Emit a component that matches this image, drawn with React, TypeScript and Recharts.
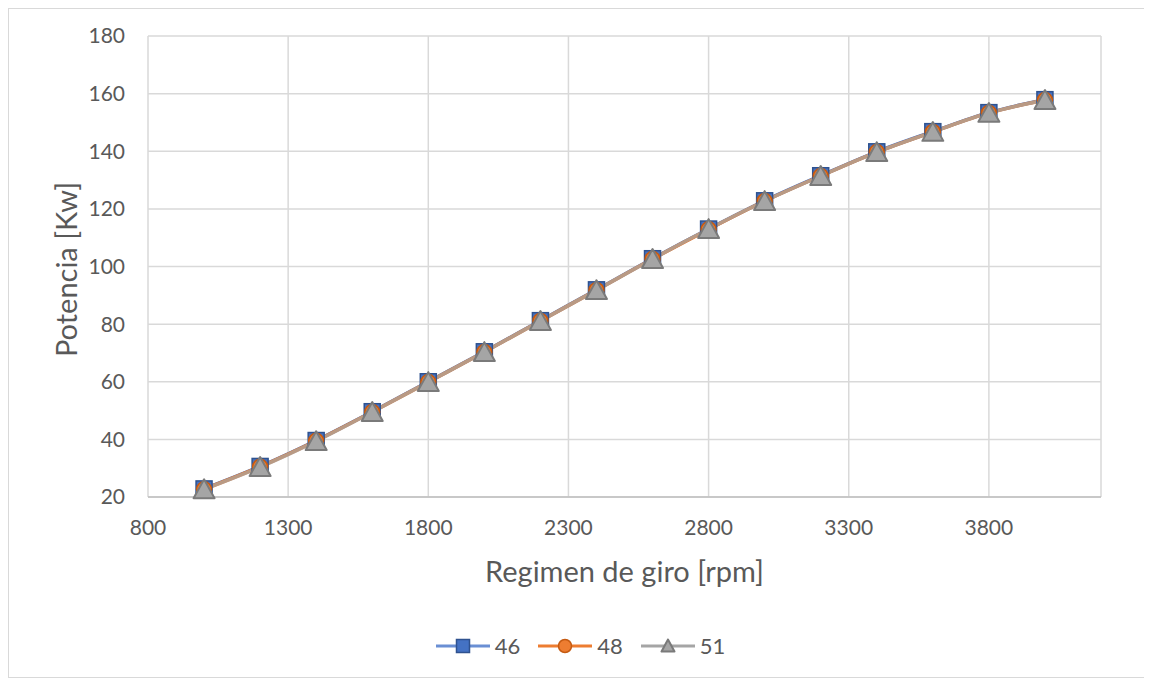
import React from "react";
import { LineChart, Line, XAxis, YAxis, CartesianGrid, Label } from "recharts";

const rpm = [1000, 1200, 1400, 1600, 1800, 2000, 2200, 2400, 2600, 2800, 3000, 3200, 3400, 3600, 3800, 4000];
const power46 = [22.8, 30.6, 39.6, 49.6, 60.0, 70.4, 81.2, 91.9, 102.7, 113.0, 122.8, 131.5, 139.8, 146.8, 153.4, 157.9];
const power48 = [22.7, 30.5, 39.5, 49.5, 59.9, 70.3, 81.1, 91.8, 102.6, 112.9, 122.7, 131.4, 139.7, 146.7, 153.3, 157.8];
const power51 = [22.7, 30.4, 39.4, 49.5, 59.9, 70.3, 81.1, 91.8, 102.6, 113.0, 122.7, 131.4, 139.7, 146.7, 153.3, 157.8];

const xTicks = [800, 1300, 1800, 2300, 2800, 3300, 3800];
const yTicks = [20, 40, 60, 80, 100, 120, 140, 160, 180];

const SERIES = [
  { key: "p46", name: "46", color: "#4472C4", edge: "#2F528F", marker: "square" },
  { key: "p48", name: "48", color: "#ED7D31", edge: "#C55A11", marker: "circle" },
  { key: "p51", name: "51", color: "#A5A5A5", edge: "#7A7A7A", marker: "triangle" },
];

const data = rpm.map((r, i) => ({ rpm: r, p46: power46[i], p48: power48[i], p51: power51[i] }));

const FONT = "Lato, 'Open Sans', sans-serif";
const TEXT = "#595959";
const GRID = "#D9D9D9";

function Marker({ kind, cx, cy, size, fill, edge }: { kind: string; cx: number; cy: number; size: number; fill: string; edge: string }) {
  if (kind === "square") {
    return <rect x={cx - size / 2} y={cy - size / 2} width={size} height={size} fill={fill} stroke={edge} strokeWidth={1.5} />;
  }
  if (kind === "circle") {
    return <circle cx={cx} cy={cy} r={size / 2} fill={fill} stroke={edge} strokeWidth={1.5} />;
  }
  const h = size * 0.85;
  return (
    <polygon
      points={`${cx},${cy - h / 2 - 1} ${cx - size / 2},${cy + h / 2} ${cx + size / 2},${cy + h / 2}`}
      fill={fill}
      stroke={edge}
      strokeWidth={2}
      strokeLinejoin="round"
    />
  );
}

function makeDot(s: (typeof SERIES)[number]) {
  const size = s.marker === "square" ? 16 : s.marker === "circle" ? 15 : 21;
  return (props: any) => {
    const { cx, cy, index } = props;
    if (cx == null || cy == null) return <g key={`${s.key}-${index}`} />;
    return (
      <g key={`${s.key}-${index}`}>
        <Marker kind={s.marker} cx={cx} cy={cy} size={size} fill={s.color} edge={s.edge} />
      </g>
    );
  };
}

function LegendBox() {
  return (
    <div
      style={{
        position: "absolute",
        left: 0,
        top: 623,
        width: 1143,
        display: "flex",
        justifyContent: "center",
        gap: 18,
        fontFamily: FONT,
        fontSize: 22,
        color: TEXT,
      }}
    >
      {SERIES.map((s) => (
        <div key={s.key} style={{ display: "flex", alignItems: "center", gap: 5 }}>
          <svg width={54} height={20}>
            <line x1={0} y1={10} x2={54} y2={10} stroke={s.key === "p46" ? "#6A8FD4" : s.color} strokeWidth={3} />
            <Marker kind={s.marker} cx={27} cy={10} size={13} fill={s.color} edge={s.edge} />
          </svg>
          <span>{s.name}</span>
        </div>
      ))}
    </div>
  );
}

function YTitle(props: any) {
  const vb = props.viewBox || { x: 0, y: 0, width: 0, height: 0 };
  const x = vb.x + 56;
  const y = vb.y + vb.height / 2 + 3;
  return (
    <text
      x={x}
      y={y}
      transform={`rotate(-90, ${x}, ${y})`}
      textAnchor="middle"
      dominantBaseline="central"
      fill={TEXT}
      fontFamily={FONT}
      fontSize={29}
    >
      Potencia [Kw]
    </text>
  );
}

export default function App() {
  return (
    <div
      style={{
        position: "relative",
        width: 1143,
        height: 668,
        borderTop: `1px solid ${GRID}`,
        borderLeft: `1px solid ${GRID}`,
        borderBottom: `1px solid ${GRID}`,
        background: "#fff",
      }}
    >
      <LineChart width={1143} height={668} data={data} margin={{ top: 27, right: 51, left: 0, bottom: 0 }}>
        <CartesianGrid stroke={GRID} strokeWidth={1.5} />
        <XAxis
          dataKey="rpm"
          type="number"
          domain={[800, 4200]}
          ticks={xTicks}
          allowDataOverflow
          height={180}
          tickSize={0}
          tickMargin={23}
          axisLine={{ stroke: "#BFBFBF", strokeWidth: 1.5 }}
          tick={{ fill: TEXT, fontSize: 21, fontFamily: FONT }}
        >
          <Label
            value="Regimen de giro [rpm]"
            position="insideTop"
            offset={64}
            fill={TEXT}
            fontSize={29}
            fontFamily={FONT}
          />
        </XAxis>
        <YAxis
          type="number"
          domain={[20, 180]}
          ticks={yTicks}
          width={139}
          tickSize={0}
          tickMargin={23}
          axisLine={false}
          tick={{ fill: TEXT, fontSize: 21, fontFamily: FONT }}
        >
          <Label content={<YTitle />} />
        </YAxis>
        {SERIES.map((s) => (
          <Line
            key={s.key}
            dataKey={s.key}
            name={s.name}
            type="monotone"
            stroke={s.color}
            strokeWidth={3.5}
            strokeOpacity={s.key === "p51" ? 0.72 : 1}
            dot={makeDot(s)}
            activeDot={false}
            isAnimationActive={false}
          />
        ))}
      </LineChart>
      <LegendBox />
    </div>
  );
}
